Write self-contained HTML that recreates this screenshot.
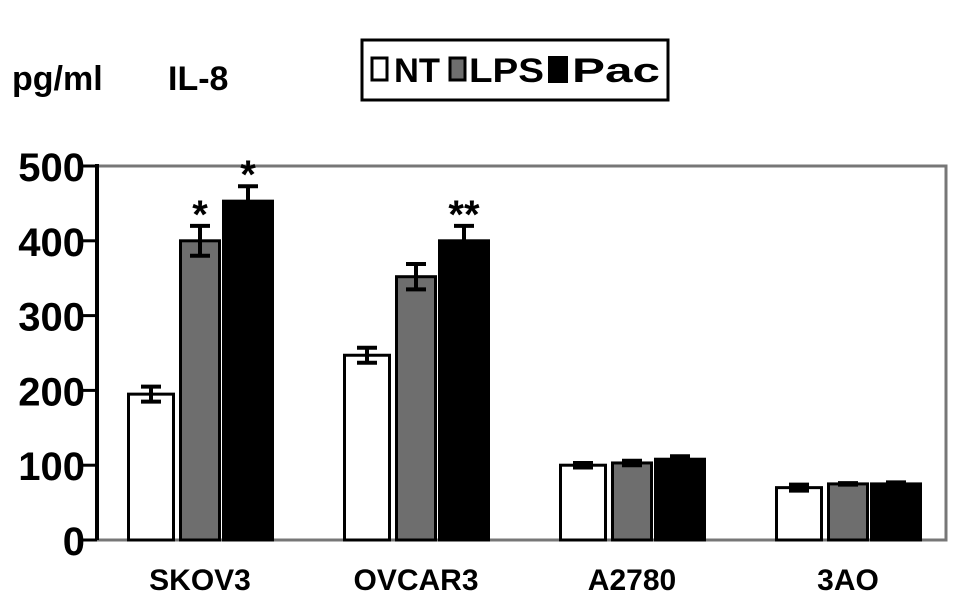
<!DOCTYPE html>
<html><head><meta charset="utf-8"><style>
body{margin:0;background:#fff;}
svg{display:block;font-family:"Liberation Sans",Arial,sans-serif;font-weight:bold;}
</style></head><body>
<svg id="chart" width="969" height="600" viewBox="0 0 969 600">
<text x="12" y="90" font-size="34px">pg/ml</text>
<text x="168" y="90" font-size="34px">IL-8</text>
<g>
<rect x="362" y="40" width="306" height="60" fill="#fff" stroke="#000" stroke-width="3"/>
<rect x="372" y="58" width="15" height="22" fill="#fff" stroke="#000" stroke-width="3"/>
<text x="394" y="82" font-size="34px" textLength="46" lengthAdjust="spacingAndGlyphs">NT</text>
<rect x="450" y="58" width="15" height="22" fill="#6e6e6e" stroke="#000" stroke-width="3"/>
<text x="469" y="82" font-size="34px" textLength="75" lengthAdjust="spacingAndGlyphs">LPS</text>
<rect x="548" y="56" width="20" height="27" fill="#000"/>
<text x="572" y="82" font-size="34px" textLength="88" lengthAdjust="spacingAndGlyphs">Pac</text>
</g>
<g id="plot"></g>
</svg>
<script>
const categories=["SKOV3","OVCAR3","A2780","3AO"];
const ntValues=[195,247,100,70];
const lpsValues=[400,352,103,75];
const pacValues=[453,400,108,75];
const ntErr=[10,10,3,4];
const lpsErr=[20,17,3,1];
const pacErr=[20,20,4,2];
const sigMarks=[["","*","*"],["","","**"],["","",""],["","",""]];
const yTicks=[0,100,200,300,400,500];
const NS="http://www.w3.org/2000/svg";
const g=document.getElementById('plot');
const y0=540,y1=166,xL=97,xR=946;
function y(v){return y0-(v/500)*(y0-y1);}
function gx(i){return 127+i*216;}
function mk(t,a){const e=document.createElementNS(NS,t);for(const k in a)e.setAttribute(k,a[k]);g.appendChild(e);return e;}
let frame=mk('rect',{x:xL,y:y1,width:xR-xL,height:y0-y1,fill:'none',stroke:'#777','stroke-width':3});


let ax=mk('line',{x1:xL,y1:y1-2,x2:xL,y2:y0,stroke:'#000','stroke-width':4});


yTicks.forEach(t=>{
 let tk=mk('line',{x1:xL-14,y1:y(t),x2:xL,y2:y(t),stroke:'#000','stroke-width':3});
 
 
 let tl=mk('text',{x:xL-12,y:y(t)+15,'font-size':'40px','text-anchor':'end'});
 tl.textContent=t;
 
 
});
const series=[{v:ntValues,e:ntErr,fill:'#fff',w:48,off:0,name:'nt'},{v:lpsValues,e:lpsErr,fill:'#6e6e6e',w:42,off:52,name:'lps'},{v:pacValues,e:pacErr,fill:'#000',w:52,off:95,name:'pac'}];
categories.forEach((c,i)=>{
 series.forEach((s,j)=>{
  const x=gx(i)+s.off,top=y(s.v[i]);
  let b=mk('rect',{x:x+1.5,y:top,width:s.w-3,height:y0-top,fill:s.fill,stroke:'#000','stroke-width':3});
  
  
  const cx=x+s.w/2,hi=y(s.v[i]+s.e[i]),lo=y(s.v[i]-s.e[i]);
  let eb=mk('path',{d:`M${cx},${hi}V${lo}M${cx-10},${hi}H${cx+10}M${cx-10},${lo}H${cx+10}`,stroke:'#000','stroke-width':4,fill:'none'});
  
  
  if(sigMarks[i][j]){
   let st=mk('text',{x:cx,y:hi+2,'font-size':'40px','text-anchor':'middle'});
   st.textContent=sigMarks[i][j];
   
   
  }
 });
 let cl=mk('text',{x:gx(i)+73,y:590,'font-size':'30px','text-anchor':'middle'});
 cl.textContent=c;
 
 
});
</script>
</body></html>
